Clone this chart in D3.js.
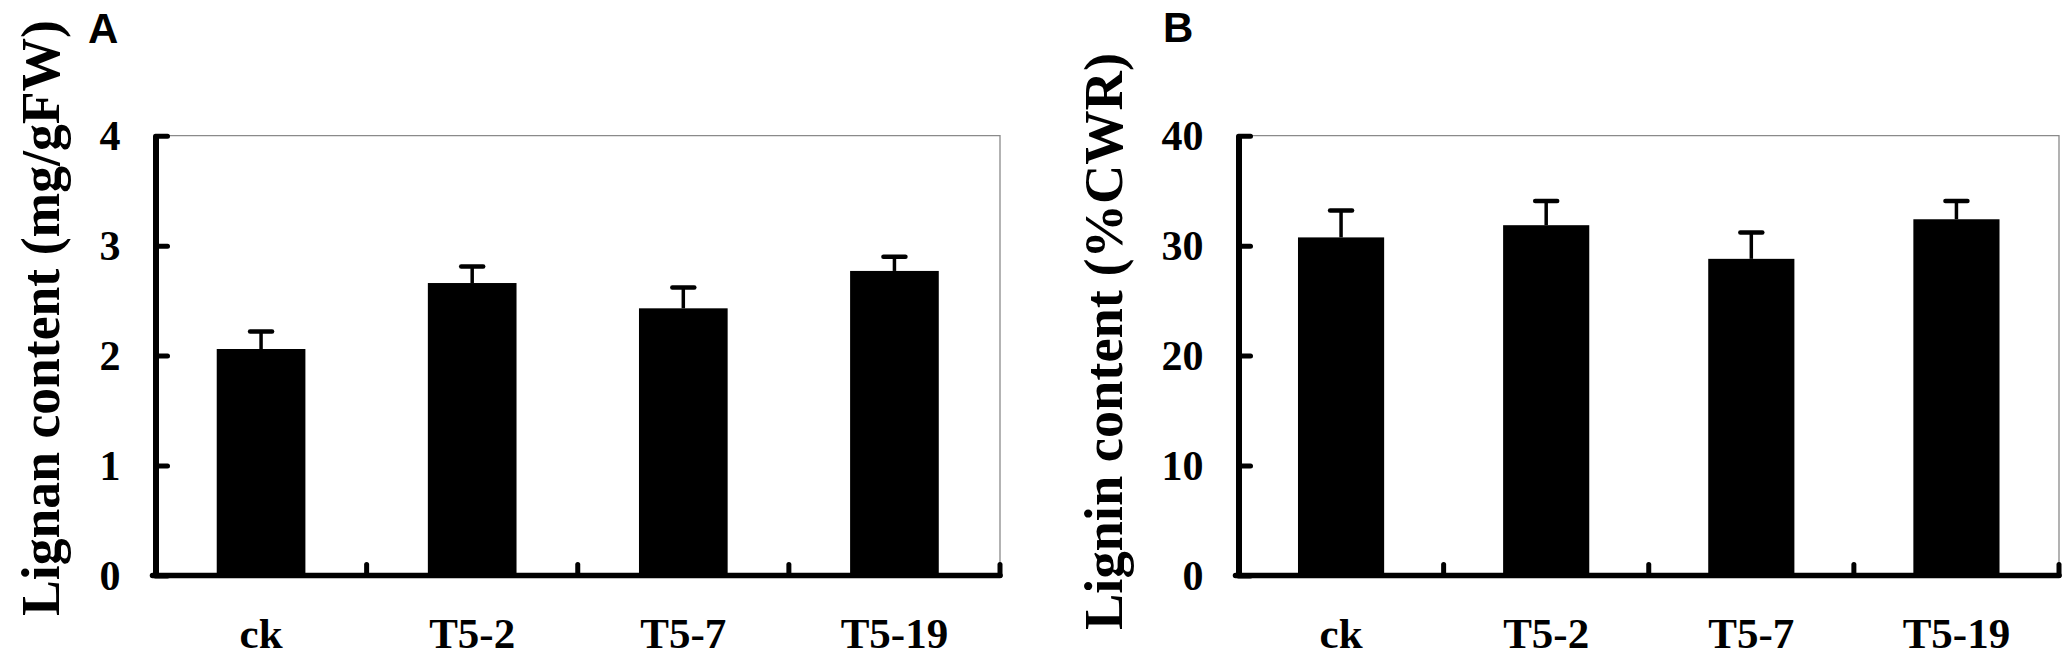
<!DOCTYPE html>
<html>
<head>
<meta charset="utf-8">
<script src="https://cdn.jsdelivr.net/npm/d3@7"></script>
<style>
  body { margin: 0; background: #fff; }
  svg { display: block; }
</style>
</head>
<body>
<svg id="chart"></svg>
<script>
// data
var categories = ["ck", "T5-2", "T5-7", "T5-19"];
var lignanMean = [2.06, 2.66, 2.43, 2.77];
var lignanSE   = [0.16, 0.15, 0.19, 0.13];
var ligninMean = [30.75, 31.86, 28.8, 32.4];
var ligninSE   = [2.45, 2.2, 2.4, 1.65];
var lignanTicks = [0, 1, 2, 3, 4];
var ligninTicks = [0, 10, 20, 30, 40];

var svgWidth = 2072, svgHeight = 658;
var svg = d3.select("#chart")
    .attr("width", svgWidth)
    .attr("height", svgHeight);

var serif = "'Liberation Serif', 'Times New Roman', serif";

// one panel
function drawPanel(opt) {
    var g = svg.append("g");

    var x = d3.scaleBand()
        .domain(categories)
        .range([opt.x0, opt.x1])
        .paddingInner(0.58)
        .paddingOuter(0.29);

    var y = d3.scaleLinear()
        .domain([0, opt.ticks[opt.ticks.length - 1]])
        .range([opt.yBottom, opt.yTop]);

    // thin grey frame top + right
    g.append("path")
        .attr("d", "M" + opt.x0 + "," + y.range()[1] + "H" + opt.x1 + "V" + y.range()[0])
        .attr("fill", "none")
        .attr("stroke", "#8a8a8a")
        .attr("stroke-width", 1.3);

    // bars
    g.selectAll("rect.bar")
        .data(opt.means)
        .enter()
        .append("rect")
        .attr("class", "bar")
        .attr("x", function(d, i) { return x(categories[i]); })
        .attr("width", x.bandwidth())
        .attr("y", function(d) { return y(d); })
        .attr("height", function(d) { return y(0) - y(d); })
        .attr("fill", "#000");

    // error bars (upper only)
    g.selectAll("line.err")
        .data(opt.means)
        .enter()
        .append("line")
        .attr("class", "err")
        .attr("x1", function(d, i) { return x(categories[i]) + x.bandwidth() / 2; })
        .attr("x2", function(d, i) { return x(categories[i]) + x.bandwidth() / 2; })
        .attr("y1", function(d) { return y(d); })
        .attr("y2", function(d, i) { return y(d + opt.se[i]); })
        .attr("stroke", "#000")
        .attr("stroke-width", 3.5);

    g.selectAll("line.cap")
        .data(opt.means)
        .enter()
        .append("line")
        .attr("class", "cap")
        .attr("x1", function(d, i) { return x(categories[i]) + x.bandwidth() / 2 - 11; })
        .attr("x2", function(d, i) { return x(categories[i]) + x.bandwidth() / 2 + 11; })
        .attr("y1", function(d, i) { return y(d + opt.se[i]); })
        .attr("y2", function(d, i) { return y(d + opt.se[i]); })
        .attr("stroke", "#000")
        .attr("stroke-width", 4.5)
        .attr("stroke-linecap", "round");

    // y axis, ticks pointing inward
    var yAxis = d3.axisLeft(y)
        .tickValues(opt.ticks)
        .tickFormat(d3.format("d"))
        .tickSizeInner(-12)
        .tickSizeOuter(0)
        .tickPadding(35);

    var ya = g.append("g")
        .attr("transform", "translate(" + opt.x0 + ",0)")
        .call(yAxis);
    ya.select(".domain").attr("stroke-width", 6).attr("stroke", "#000");
    ya.selectAll(".tick line").attr("stroke-width", 5).attr("stroke-linecap", "round");
    ya.selectAll(".tick text")
        .attr("font-family", serif)
        .attr("font-weight", "bold")
        .attr("font-size", 42)
        .attr("fill", "#000")
        .attr("dy", "0.34em");

    // x axis: category labels
    var xAxis = d3.axisBottom(x).tickSize(0);
    var xa = g.append("g")
        .attr("transform", "translate(0," + y(0) + ")")
        .call(xAxis);
    xa.select(".domain").remove();
    xa.selectAll(".tick text")
        .attr("font-family", serif)
        .attr("font-weight", "bold")
        .attr("font-size", 43)
        .attr("fill", "#000")
        .attr("y", 72)
        .attr("dy", null);

    // x axis baseline
    g.append("line")
        .attr("x1", opt.x0 - 3)
        .attr("x2", opt.x1)
        .attr("y1", y(0))
        .attr("y2", y(0))
        .attr("stroke", "#000")
        .attr("stroke-width", 5.5)
        .attr("stroke-linecap", "round");

    // boundary ticks between categories, pointing up
    var bounds = d3.range(1, categories.length + 1).map(function(i) { return opt.x0 + i * x.step(); });
    g.selectAll("line.xtick")
        .data(bounds)
        .enter()
        .append("line")
        .attr("class", "xtick")
        .attr("x1", function(d) { return d; })
        .attr("x2", function(d) { return d; })
        .attr("y1", y(0))
        .attr("y2", y(0) - 11)
        .attr("stroke", "#000")
        .attr("stroke-width", 5)
        .attr("stroke-linecap", "round");

    // y title
    g.append("text")
        .attr("transform", "translate(" + opt.titleX + "," + opt.titleY + ") rotate(-90)")
        .attr("text-anchor", "middle")
        .attr("font-family", serif)
        .attr("font-weight", "bold")
        .attr("font-size", 55)
        .attr("textLength", opt.titleLen)
        .attr("lengthAdjust", "spacingAndGlyphs")
        .text(opt.title);

    // panel letter
    g.append("text")
        .attr("x", opt.letterX)
        .attr("y", opt.letterY)
        .attr("font-family", "'Liberation Sans', Arial, sans-serif")
        .attr("font-weight", "bold")
        .attr("font-size", 42)
        .text(opt.letter);
}

drawPanel({
    x0: 155.5, x1: 1000, yBottom: 575.5, yTop: 135.7,
    means: lignanMean, se: lignanSE, ticks: lignanTicks,
    title: "Lignan content (mg/gFW)", titleX: 59, titleY: 318, titleLen: 596,
    letter: "A", letterX: 88, letterY: 43
});

drawPanel({
    x0: 1238.5, x1: 2059, yBottom: 575.5, yTop: 135.7,
    means: ligninMean, se: ligninSE, ticks: ligninTicks,
    title: "Lignin content (%CWR)", titleX: 1122, titleY: 341.5, titleLen: 577,
    letter: "B", letterX: 1163, letterY: 42
});
</script>
</body>
</html>
